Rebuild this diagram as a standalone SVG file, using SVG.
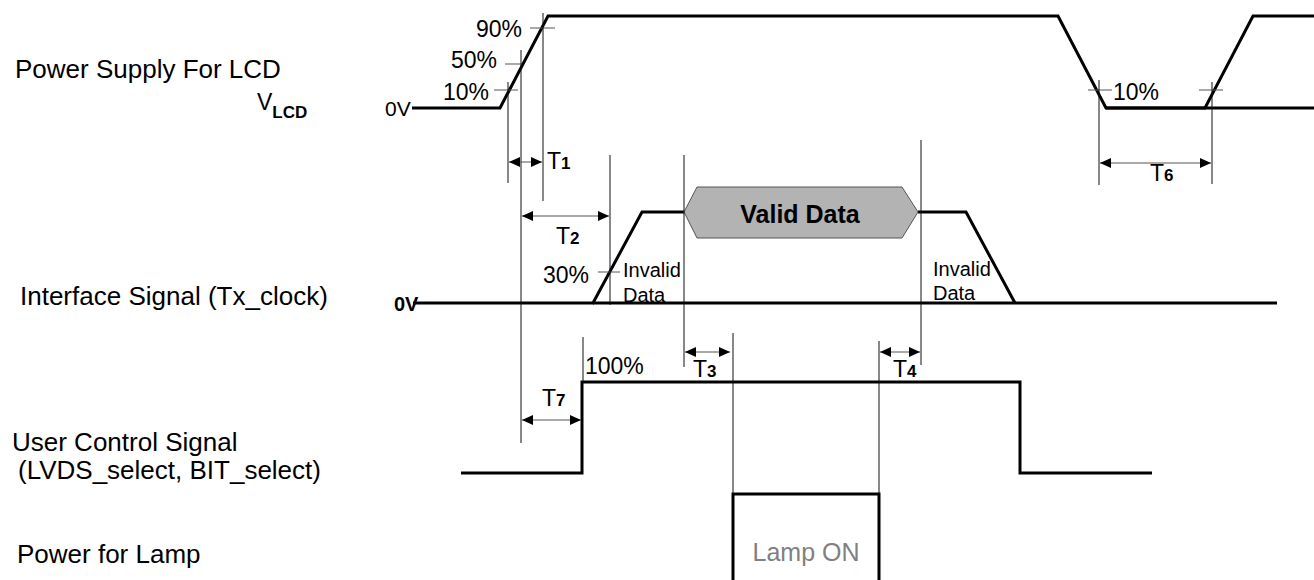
<svg xmlns="http://www.w3.org/2000/svg" width="1314" height="580" viewBox="0 0 1314 580">
<defs>
<style>
.t{font-family:"Liberation Sans",Arial,sans-serif;fill:#000}
.lbl{font-size:26px}
.pct{font-size:23px}
.sig{fill:none;stroke:#000;stroke-width:3;stroke-linejoin:miter}
.ref{stroke:#111;stroke-width:1;fill:none}
.tick{stroke:#555;stroke-width:1;fill:none}
.dim{stroke:#555;stroke-width:1;fill:none;marker-start:url(#aL);marker-end:url(#aR)}
.sub{font-size:17px;font-weight:bold}
</style>
<marker id="aR" markerUnits="userSpaceOnUse" markerWidth="12" markerHeight="10" refX="11" refY="5" orient="auto">
<path d="M0,0 L11,5 L0,10 Z" fill="#000"/>
</marker>
<marker id="aL" markerUnits="userSpaceOnUse" markerWidth="12" markerHeight="10" refX="0" refY="5" orient="auto">
<path d="M11,0 L0,5 L11,10 Z" fill="#000"/>
</marker>
</defs>
<rect width="1314" height="580" fill="#fff"/>

<g id="labels">
<text class="t lbl" x="15" y="78">Power Supply For LCD</text>
<text class="t" x="257" y="110" font-size="23">V<tspan class="sub" dy="8">LCD</tspan></text>
<text class="t lbl" x="20" y="305">Interface Signal (Tx_clock)</text>
<text class="t lbl" x="12" y="451">User Control Signal</text>
<text class="t lbl" x="18" y="479">(LVDS_select, BIT_select)</text>
<text class="t lbl" x="17" y="563">Power for Lamp</text>
</g>

<g id="vlcd">
<text class="t" x="385" y="116" font-size="21">0V</text>
<polyline class="sig" points="412,108 500,108 548,16 1058,16 1106,108 1205,108 1253,16 1314,16"/>
<line class="sig" x1="1106" y1="108" x2="1314" y2="108"/>
<text class="t pct" x="522" y="37" text-anchor="end">90%</text>
<text class="t pct" x="497" y="68" text-anchor="end">50%</text>
<text class="t pct" x="489" y="100" text-anchor="end">10%</text>
<text class="t pct" x="1113" y="100">10%</text>
<line class="tick" x1="530" y1="28" x2="555" y2="28"/>
<line class="tick" x1="505" y1="64" x2="522" y2="64"/>
<line class="tick" x1="494" y1="90" x2="518" y2="90"/>
<line class="tick" x1="1088" y1="90" x2="1112" y2="90"/>
<line class="tick" x1="1199" y1="90" x2="1223" y2="90"/>
</g>

<g id="interface">
<text class="t" x="394" y="311" font-size="20" font-weight="bold">0V</text>
<polyline class="sig" points="413,303 593,303 642,212 684,212"/>
<line class="sig" x1="593" y1="303" x2="1277" y2="303"/>
<polyline class="sig" points="918,212 966,212 1015,303"/>
<polygon points="684,212 697,187 902,187 918,212 902,238 697,238" fill="#b3b3b3" stroke="#555" stroke-width="1"/>
<text class="t" x="800" y="223" font-size="25" font-weight="bold" text-anchor="middle">Valid Data</text>
<text class="t pct" x="543" y="283">30%</text>
<line class="tick" x1="598" y1="272" x2="620" y2="272"/>
<text class="t" x="623" y="277" font-size="20">Invalid</text>
<text class="t" x="623" y="302" font-size="20">Data</text>
<text class="t" x="933" y="276" font-size="20">Invalid</text>
<text class="t" x="933" y="300" font-size="20">Data</text>
</g>

<g id="user-control">
<polyline class="sig" points="461,473 582,473 582,382 1020,382 1020,473 1152,473"/>
<text class="t pct" x="585" y="374">100%</text>
</g>

<g id="lamp">
<polyline class="sig" points="733,580 733,494 879,494 879,580"/>
<text class="t" x="806" y="561" font-size="25" style="fill:#808080" text-anchor="middle">Lamp ON</text>
</g>

<g id="connectors">
<line class="ref" x1="508" y1="82" x2="508" y2="183"/>
<line class="ref" x1="521" y1="50" x2="521" y2="443"/>
<line class="ref" x1="543" y1="13" x2="543" y2="201"/>
<line class="ref" x1="610" y1="155" x2="610" y2="305"/>
<line class="ref" x1="684" y1="155" x2="684" y2="367"/>
<line class="ref" x1="921" y1="140" x2="921" y2="365"/>
<line class="ref" x1="583" y1="337" x2="583" y2="382"/>
<line class="ref" x1="733" y1="333" x2="733" y2="494"/>
<line class="ref" x1="879" y1="341" x2="879" y2="494"/>
<line class="ref" x1="1099" y1="80" x2="1099" y2="185"/>
<line class="ref" x1="1212" y1="82" x2="1212" y2="184"/>
<line class="dim" x1="509" y1="162" x2="542" y2="162"/>
<line class="dim" x1="522" y1="216" x2="609" y2="216"/>
<line class="dim" x1="685" y1="352" x2="730" y2="352"/>
<line class="dim" x1="880" y1="352" x2="920" y2="352"/>
<line class="dim" x1="522" y1="420" x2="581" y2="420"/>
<line class="dim" x1="1100" y1="163" x2="1211" y2="163"/>
<text class="t" x="547" y="169" font-size="23">T<tspan class="sub">1</tspan></text>
<text class="t" x="556" y="244" font-size="23">T<tspan class="sub">2</tspan></text>
<text class="t" x="693" y="377" font-size="23">T<tspan class="sub">3</tspan></text>
<text class="t" x="893" y="377" font-size="23">T<tspan class="sub">4</tspan></text>
<text class="t" x="542" y="406" font-size="23">T<tspan class="sub">7</tspan></text>
<text class="t" x="1150" y="181" font-size="23">T<tspan class="sub">6</tspan></text>
</g>
</svg>
